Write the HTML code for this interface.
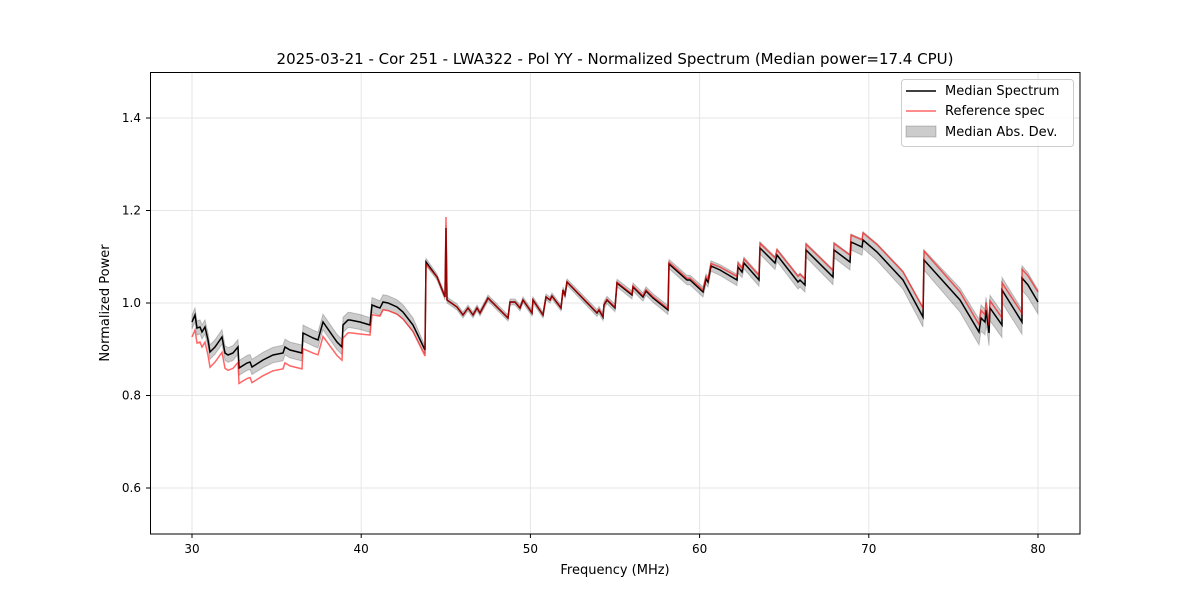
<!DOCTYPE html>
<html><head><meta charset="utf-8"><style>
body{margin:0;background:#fff}
svg{display:block;font-family:"DejaVu Sans","Liberation Sans",sans-serif}
</style></head><body>
<svg id="s" width="1200" height="600" viewBox="0 0 1200 600" xmlns="http://www.w3.org/2000/svg">
<rect width="1200" height="600" fill="#fff"/>
<g stroke="#e6e6e6" stroke-width="1">
<line x1="192" y1="72" x2="192" y2="534"/><line x1="361.2" y1="72" x2="361.2" y2="534"/><line x1="530.4" y1="72" x2="530.4" y2="534"/><line x1="699.6" y1="72" x2="699.6" y2="534"/><line x1="868.8" y1="72" x2="868.8" y2="534"/><line x1="1038" y1="72" x2="1038" y2="534"/>
<line x1="150" y1="488" x2="1080" y2="488"/><line x1="150" y1="395.5" x2="1080" y2="395.5"/><line x1="150" y1="303" x2="1080" y2="303"/><line x1="150" y1="210.5" x2="1080" y2="210.5"/><line x1="150" y1="118" x2="1080" y2="118"/>
</g>
<g id="data"></g>
<rect x="150.5" y="72.5" width="929.5" height="461.5" fill="none" stroke="#000" stroke-width="1"/>
<g stroke="#000">
<line x1="192" y1="534" x2="192" y2="538"/><line x1="361.2" y1="534" x2="361.2" y2="538"/><line x1="530.4" y1="534" x2="530.4" y2="538"/><line x1="699.6" y1="534" x2="699.6" y2="538"/><line x1="868.8" y1="534" x2="868.8" y2="538"/><line x1="1038" y1="534" x2="1038" y2="538"/>
<line x1="146" y1="488" x2="150" y2="488"/><line x1="146" y1="395.5" x2="150" y2="395.5"/><line x1="146" y1="303" x2="150" y2="303"/><line x1="146" y1="210.5" x2="150" y2="210.5"/><line x1="146" y1="118" x2="150" y2="118"/>
</g>
<g font-size="12" fill="#000" text-anchor="middle">
<text x="192" y="553">30</text><text x="361.2" y="553">40</text><text x="530.4" y="553">50</text><text x="699.6" y="553">60</text><text x="868.8" y="553">70</text><text x="1038" y="553">80</text>
</g>
<g font-size="12" fill="#000" text-anchor="end">
<text x="141" y="492">0.6</text><text x="141" y="399.5">0.8</text><text x="141" y="307">1.0</text><text x="141" y="214.5">1.2</text><text x="141" y="122">1.4</text>
</g>
<text x="615" y="574" font-size="13" text-anchor="middle">Frequency (MHz)</text>
<text x="109" y="303" font-size="13" text-anchor="middle" transform="rotate(-90 109 303)">Normalized Power</text>
<text x="615" y="64" font-size="15" text-anchor="middle">2025-03-21 - Cor 251 - LWA322 - Pol YY - Normalized Spectrum (Median power=17.4 CPU)</text>
<rect x="901.5" y="79.5" width="172" height="67" rx="3" fill="#fff" fill-opacity="0.8" stroke="#ccc"/>
<line x1="906" y1="91" x2="936" y2="91" stroke="#000" stroke-width="1.5"/>
<line x1="906" y1="111" x2="936" y2="111" stroke="red" stroke-opacity="0.6" stroke-width="1.5"/>
<rect x="906" y="126" width="30" height="11" fill="#000" fill-opacity="0.2" stroke="#000" stroke-opacity="0.2"/>
<g font-size="13"><text x="945" y="95">Median Spectrum</text><text x="945" y="115">Reference spec</text><text x="945" y="136">Median Abs. Dev.</text></g>
</svg>
<script>
var B=[[192,322],[195,315],[197,328],[200,327],[202,332],[205,327],[208,340],[210,352],[215,347],[222,337],[225,353],[228,355],[233,353],[238,347],[239,368],[247,363],[250,362],[252,367],[263,360],[273,355],[283,353],[285,347],[290,350],[302,353],[303,333],[313,338],[318,340],[323,322],[337,342],[342,347],[343,325],[348,320],[350,320],[360,322],[370,325],[372,305],[377,307],[380,308],[383,302],[388,303],[397,307],[403,312],[413,325],[425,350],[426,262],[437,277],[445,297],[446,228],[447,300],[457,307],[463,315],[468,308],[473,315],[477,308],[480,313],[476,300].slice(0,0),
[487,300],[488,298],[508,318],[510,302],[515,302],[520,308],[523,300],[532,313],[533,300],[543,315],[546,297],[550,300],[552,296],[561,308],[563,290],[565,295],[567,282],[597,313],[599,310],[603,317],[604,305],[607,300],[615,308],[617,283],[632,295],[633,287],[643,297],[646,291],[653,298],[668,310],[669,264],[687,280],[690,280],[703,292],[706,279],[708,282],[711,266],[720,270],[737,280],[738,267],[742,272],[744,263],[759,280],[760,248],[775,263],[777,255],[798,282],[800,280],[805,285],[806,250],[833,277],[834,250],[850,262],[851,242],[862,247],[863,240],[877,252],[903,280],[923,317],[924,260],[960,300],[979,332],[981,318],[985,322],[986,310],[989,333],[990,308],[1002,325],[1002,290],[1022,322],[1022,278],[1028,285],[1038,302]].filter(function(p){return p.length==2});
function pw(t,x){for(var i=1;i<t.length;i++){if(x<=t[i][0]){var a=t[i-1],b=t[i];return a[1]+(b[1]-a[1])*(x-a[0])/(b[0]-a[0]);}}return t[t.length-1][1];}
var RO=[[192,15],[300,16],[360,12],[380,8],[425,6],[426.5,0],[560,0],[700,-2],[770,-5],[900,-8],[920,-9],[1000,-7],[1038,-10]];
var HW=[[192,7],[300,8],[420,7],[427,3],[560,3],[700,5],[800,7],[900,9],[980,13],[1038,12]];
function d(f){return "M"+B.map(function(p){return p[0]+","+f(p).toFixed(1)}).join("L");}
var up=B.map(function(p){return p[0]+","+(p[1]-pw(HW,p[0])).toFixed(1)});
var dn=B.slice().reverse().map(function(p){return p[0]+","+(p[1]+pw(HW,p[0])).toFixed(1)});
var ns="http://www.w3.org/2000/svg",g=document.getElementById("data");
function add(a){var e=document.createElementNS(ns,"path");for(var k in a)e.setAttribute(k,a[k]);g.appendChild(e);}
add({d:"M"+up.join("L")+"L"+dn.join("L")+"Z",fill:"#000","fill-opacity":"0.2",stroke:"#000","stroke-opacity":"0.2"});
add({d:d(function(p){return p[1]}),fill:"none",stroke:"#000","stroke-width":"1.5"});
var R=B.map(function(p){return [p[0],p[1]+pw(RO,p[0])]});
R.forEach(function(p){if(p[0]==446)p[1]=217;});
add({d:"M"+R.map(function(p){return p[0]+","+p[1].toFixed(1)}).join("L"),fill:"none",stroke:"red","stroke-opacity":"0.6","stroke-width":"1.5"});
</script>
</body></html>
